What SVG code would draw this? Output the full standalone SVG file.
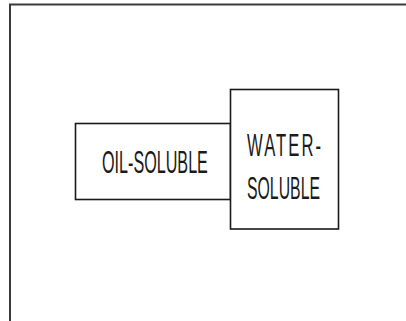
<svg xmlns="http://www.w3.org/2000/svg" width="406" height="321" viewBox="0 0 406 321">
<style>
.frame{fill:none;stroke:#3a3a3a;stroke-width:2}
.box{fill:#ffffff;stroke:#1a1a1a;stroke-width:1.6}
.lbl{font-family:"Liberation Sans",Arial,sans-serif;font-size:32px;fill:#1a1a1a;font-weight:normal}
</style>
<rect width="406" height="321" fill="#ffffff"/>
<path class="frame" d="M10,330 L10,4.5 L420,4.5"/>
<g id="connectors"></g>
<g id="oil-soluble">
<rect class="box" x="75.5" y="123.5" width="155" height="76"/>
<text class="lbl" transform="translate(102,173) scale(0.505,1)">OIL-SOLUBLE</text>
</g>
<g id="water-soluble">
<rect class="box" x="230.5" y="89.5" width="108" height="139.5"/>
<text class="lbl" transform="translate(247,156) scale(0.52,1)" letter-spacing="4">WATER-</text>
<text class="lbl" transform="translate(247,199) scale(0.495,1)">SOLUBLE</text>
</g>
</svg>
